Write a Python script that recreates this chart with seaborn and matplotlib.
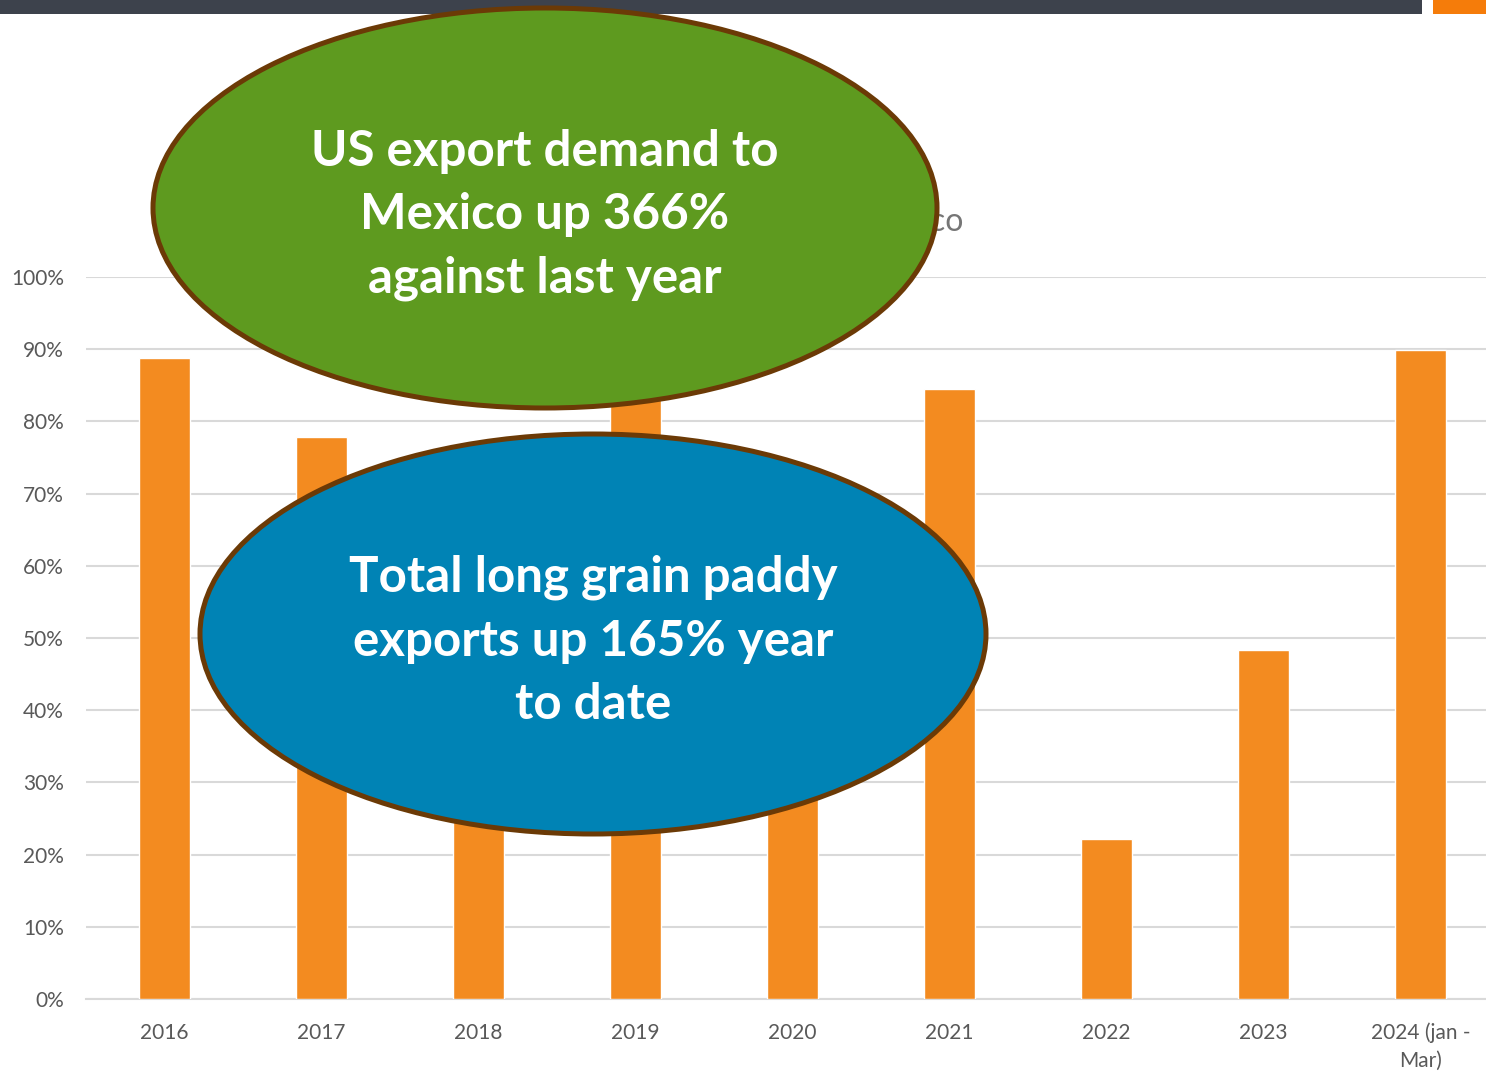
import numpy as np
import pandas as pd
import seaborn as sns
import matplotlib.pyplot as plt
from matplotlib.patches import Ellipse, Rectangle

# share of long grain paddy exports going to Mexico
years = ['2016', '2017', '2018', '2019', '2020', '2021', '2022', '2023', '2024 (jan -\nMar)']
share = [0.888, 0.778, 0.45, 0.88, 0.40, 0.845, 0.222, 0.483, 0.899]
yticks = [0, 0.1, 0.2, 0.3, 0.4, 0.5, 0.6, 0.7, 0.8, 0.9, 1.0]

sns.set_theme(style="white")
plt.rcParams['font.family'] = ['Lato', 'DejaVu Sans']

W, H = 1486, 1074
fig = plt.figure(figsize=(W / 100, H / 100), dpi=100)
ax = fig.add_axes([86 / W, 1 - 999 / H, 1413 / W, 722 / H])

df = pd.DataFrame({"year": years, "share": share})
sns.barplot(data=df, x="year", y="share", order=years, color='#F38B20',
            saturation=1, width=0.32, ax=ax, zorder=3)

ax.set_ylim(0, 1)
ax.set_yticks(yticks)
ax.set_yticklabels([f"{int(round(t * 100))}%" for t in yticks])
ax.yaxis.grid(True, color='#D9D9D9', linewidth=1.5, zorder=0)
ax.set_axisbelow(True)
ax.set_xlabel("")
ax.set_ylabel("")
for s in ['top', 'right', 'left']:
    ax.spines[s].set_visible(False)
ax.spines['bottom'].set_color('#D9D9D9')
ax.spines['bottom'].set_linewidth(1.5)
ax.tick_params(axis='y', length=0, pad=16, labelsize=15, labelcolor='#595959')
ax.tick_params(axis='x', length=0, pad=17, labelsize=15, labelcolor='#595959')
for lab in ax.get_xticklabels():
    lab.set_linespacing(1.45)

# chart title, mostly hidden behind the green bubble
fig.text(963 / W, 1 - 222 / H, "to Mexico", ha='right',
         va='center', fontsize=23, color='#767676')

# slide header strip
fig.patches.append(Rectangle((0, 1 - 14 / H), 1422 / W, 14 / H, transform=fig.transFigure,
                             facecolor='#3D424C', edgecolor='none', zorder=5))
fig.patches.append(Rectangle((1433 / W, 1 - 14 / H), 53 / W, 14 / H, transform=fig.transFigure,
                             facecolor='#F57C0A', edgecolor='none', zorder=5))

# callout bubbles
bubbles = [
    ((545, 208), 392, 200, '#5E9A1F', "US export demand to\nMexico up 366%\nagainst last year"),
    ((593, 634), 393, 200, '#0083B5', "Total long grain paddy\nexports up 165% year\nto date"),
]
for (cx, cy), a, b, col, txt in bubbles:
    e = Ellipse((cx / W, 1 - cy / H), 2 * a / W, 2 * b / H, transform=fig.transFigure,
                facecolor=col, edgecolor='#6B3A06', linewidth=3.6, zorder=10)
    fig.patches.append(e)
    fig.text(cx / W, 1 - (cy + 7) / H, txt, ha='center', va='center', fontsize=35.5,
             fontweight='bold', color='white', linespacing=1.5, zorder=11)

plt.savefig("out.png", dpi=100)
